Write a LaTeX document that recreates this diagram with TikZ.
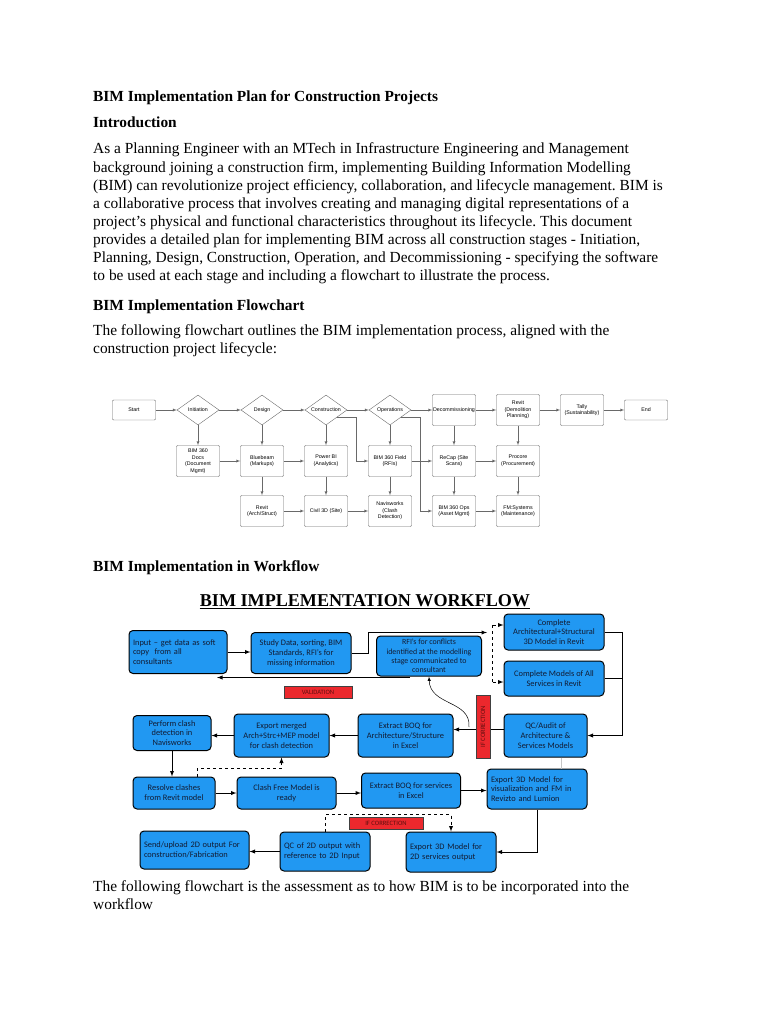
\documentclass[tikz,border=0pt]{standalone}
\usepackage{fontspec}
\setmainfont{Liberation Serif}
\newfontfamily\chartfont{Liberation Sans}
\newfontfamily\flowfont{Carlito}
\usepackage{tikz}
\usetikzlibrary{shapes.geometric, arrows, positioning}
\definecolor{boxblue}{RGB}{33, 152, 242}
\definecolor{flagred}{RGB}{236, 40, 45}
\definecolor{flagtext}{RGB}{95, 15, 15}
\definecolor{chartgray}{RGB}{105, 105, 105}
\definecolor{boxtext}{RGB}{18, 28, 52}
\frenchspacing

\begin{document}
\begin{tikzpicture}[x=1pt, y=-1pt, >=latex,
    font=\fontsize{15.4}{18}\selectfont,
    heading/.style={anchor=base west, inner sep=0pt, font=\bfseries\fontsize{15.4}{18}\selectfont},
    line/.style={anchor=base west, inner sep=0pt},
    stage/.style={draw=chartgray, rounded corners=1pt, fill=white, minimum width=43pt, minimum height=31pt, inner sep=0.3pt, align=center, font=\chartfont\fontsize{5.3}{6.6}\selectfont},
    terminal/.style={stage, minimum height=20pt},
    phase/.style={draw=chartgray, diamond, aspect=1.4, minimum width=42pt, minimum height=30pt, inner sep=0pt, font=\chartfont\fontsize{5.3}{6.6}\selectfont},
    chartarrow/.style={->, draw=chartgray, line width=0.4pt},
    wfbox/.style={draw=black, line width=1pt, rounded corners=4pt, fill=boxblue, text=boxtext, align=center, inner sep=2pt, font=\flowfont\fontsize{8.4}{9.8}\selectfont},
    wfleft/.style={wfbox, align=left, inner sep=4pt},
    flag/.style={draw=black!75, line width=0.7pt, fill=flagred, text=flagtext, inner sep=0pt, font=\flowfont\fontsize{6.6}{7}\selectfont},
    wfarrow/.style={->, line width=0.9pt},
    wfdash/.style={line width=0.9pt, dashed}]
\useasboundingbox (0,0) rectangle (768,1024);

% Page text
\node[heading] (title) at (93,101.7) {BIM Implementation Plan for Construction Projects};
\node[heading] (intro) at (93,128) {Introduction};
\foreach \txt [count=\k] in {
    {As a Planning Engineer with an MTech in Infrastructure Engineering and Management},
    {background joining a construction firm, implementing Building Information Modelling},
    {(BIM) can revolutionize project efficiency, collaboration, and lifecycle management. BIM is},
    {a collaborative process that involves creating and managing digital representations of a},
    {project’s physical and functional characteristics throughout its lifecycle. This document},
    {provides a detailed plan for implementing BIM across all construction stages - Initiation,},
    {Planning, Design, Construction, Operation, and Decommissioning - specifying the software},
    {to be used at each stage and including a flowchart to illustrate the process.}}
  \node[line] (para\k) at (93,{154+18.1*(\k-1)}) {\txt};
\node[heading] (flowhead) at (93,310.7) {BIM Implementation Flowchart};
\node[line] (flowtext1) at (93,335) {The following flowchart outlines the BIM implementation process, aligned with the};
\node[line] (flowtext2) at (93,353) {construction project lifecycle:};
\node[heading] (wfhead) at (93,571) {BIM Implementation in Workflow};
\node[line] (wftext1) at (93,891.7) {The following flowchart is the assessment as to how BIM is to be incorporated into the};
\node[line] (wftext2) at (93,909.5) {workflow};

% Lifecycle flowchart
\node[terminal] (start) at (134,410) {Start};
\node[phase] (initiation) at (198,410) {Initiation};
\node[phase] (design) at (262,410) {Design};
\node[phase] (construction) at (326,410) {Construction};
\node[phase] (operations) at (390,410) {Operations};
\node[stage] (decom) at (454,410) {Decommissioning};
\node[stage] (revitdemo) at (518,410) {Revit\\(Demolition\\Planning)};
\node[stage] (tally) at (582,410) {Tally\\(Sustainability)};
\node[terminal] (finish) at (646,410) {End};

\node[stage] (docs) at (198,461) {BIM 360\\Docs\\(Document\\Mgmt)};
\node[stage] (bluebeam) at (262,461) {Bluebeam\\(Markups)};
\node[stage] (powerbi) at (326,461) {Power BI\\(Analytics)};
\node[stage] (field) at (390,461) {BIM 360 Field\\(RFIs)};
\node[stage] (recap) at (454,461) {ReCap (Site\\Scans)};
\node[stage] (procore) at (518,461) {Procore\\(Procurement)};

\node[stage] (revitarch) at (262,511) {Revit\\(Arch/Struct)};
\node[stage] (civil) at (326,511) {Civil 3D (Site)};
\node[stage] (navis) at (390,511) {Navisworks\\(Clash\\Detection)};
\node[stage] (assetops) at (454,511) {BIM 360 Ops\\(Asset Mgmt)};
\node[stage] (fmsys) at (518,511) {FM:Systems\\(Maintenance)};

\draw[chartarrow] (start) -- (initiation);
\draw[chartarrow] (initiation) -- (design);
\draw[chartarrow] (design) -- (construction);
\draw[chartarrow] (construction) -- (operations);
\draw[chartarrow] (operations) -- (decom);
\draw[chartarrow] (decom) -- (revitdemo);
\draw[chartarrow] (revitdemo) -- (tally);
\draw[chartarrow] (tally) -- (finish);
\draw[chartarrow] (construction.south east) -- ++(20,0) |- (field);
\draw[chartarrow] (operations.south east) -- ++(20,0) |- (assetops);

\draw[chartarrow] (initiation) -- (docs);
\draw[chartarrow] (design) -- (bluebeam);
\draw[chartarrow] (construction) -- (powerbi);
\draw[chartarrow] (operations) -- (field);
\draw[chartarrow] (decom) -- (recap);
\draw[chartarrow] (revitdemo) -- (procore);
\draw[chartarrow] (docs) -- (bluebeam);
\draw[chartarrow] (bluebeam) -- (powerbi);
\draw[chartarrow] (field) -- (recap);
\draw[chartarrow] (recap) -- (procore);

\draw[chartarrow] (bluebeam) -- (revitarch);
\draw[chartarrow] (powerbi) -- (civil);
\draw[chartarrow] (field) -- (navis);
\draw[chartarrow] (recap) -- (assetops);
\draw[chartarrow] (procore) -- (fmsys);
\draw[chartarrow] (revitarch) -- (civil);
\draw[chartarrow] (civil) -- (navis);
\draw[chartarrow] (assetops) -- (fmsys);

% Workflow diagram
\node[anchor=base, inner sep=0pt, font=\bfseries\fontsize{18.1}{20}\selectfont] (wftitle) at (365,606) {BIM IMPLEMENTATION WORKFLOW};
\draw[line width=0.8pt] ([yshift=-2.5pt]wftitle.base west) -- ([yshift=-2.5pt]wftitle.base east);

\node[wfleft, text width=90pt, minimum height=43pt] (input) at (178,652) {Input – get data as soft\\copy~ from all\\consultants};
\node[wfbox, minimum width=100pt, minimum height=41pt] (study) at (301,653) {Study Data, sorting, BIM\\Standards, RFI’s for\\missing information};
\node[wfbox, minimum width=105pt, minimum height=40pt, inner sep=1pt, font=\flowfont\fontsize{7.9}{9.2}\selectfont] (rfi) at (429,656) {RFI’s for conflicts\\identified at the modelling\\stage communicated to\\consultant};
\node[wfbox, minimum width=100pt, minimum height=36pt, inner sep=1pt] (archmodel) at (554,632) {Complete\\Architectural+Structural\\3D Model in Revit};
\node[wfbox, minimum width=100pt, minimum height=35pt] (servmodel) at (554,678.5) {Complete Models of All\\Services in Revit};

\node[wfbox, minimum width=78pt, minimum height=35pt] (clash) at (172,733) {Perform clash\\detection in\\Navisworks};
\node[wfbox, minimum width=95pt, minimum height=43pt] (export) at (281.5,735.5) {Export merged\\Arch+Strc+MEP model\\for clash detection};
\node[wfbox, minimum width=95pt, minimum height=43pt] (boqarch) at (405.5,735.5) {Extract BOQ for\\Architecture/Structure\\in Excel};
\node[wfbox, minimum width=83pt, minimum height=43pt] (qcaudit) at (545.5,735.5) {QC/Audit of\\Architecture \&\\Services Models};

\node[wfbox, minimum width=82pt, minimum height=32pt] (resolve) at (174,793) {Resolve clashes\\from Revit model};
\node[wfbox, minimum width=99pt, minimum height=32pt] (clashfree) at (286.5,793) {Clash Free Model is\\ready};
\node[wfbox, minimum width=99pt, minimum height=35pt] (boqserv) at (411,790.5) {Extract BOQ for services\\in Excel};
\node[wfleft, text width=92pt, minimum height=40pt] (viz) at (537,789) {Export 3D Model for\\visualization and FM in\\Revizto and Lumion};

\node[wfleft, text width=101pt, minimum height=38pt] (send) at (194.5,850) {Send/upload 2D output For\\construction/Fabrication};
\node[wfleft, text width=82pt, minimum height=39pt] (qc2d) at (325,851.5) {QC of 2D output with\\reference to 2D Input};
\node[wfleft, text width=82pt, minimum height=40pt] (export2d) at (451,852) {Export 3D Model for\\2D services output};

% Workflow connectors
\coordinate (rfijoin) at (487,632.5);
\coordinate (splittop) at (492.5,625);
\coordinate (splitbot) at (492.5,682);
\coordinate (rfiback) at (410,677.5);
\coordinate (inputback) at (217,677.5);
\coordinate (curvestart) at (469,727);

\draw[wfarrow] (input.east) -- (input.east -| study.west);
\draw[line width=0.9pt, ->] (study.east) -- ++(17,0) |- (rfijoin);
\draw[wfdash] (splittop) -- (splitbot);
\draw[wfdash, ->] (splittop) -- (splittop -| archmodel.west);
\draw[wfdash, ->] (splitbot) -- (splitbot -| servmodel.west);
\draw[wfarrow] (rfiback) -- (inputback);
\draw[wfarrow] (archmodel.east) -- ++(18,0) |- (qcaudit.east);
\draw[line width=0.9pt] (servmodel.east) -- ++(18,0);
\draw[wfarrow] ([yshift=6pt]qcaudit.west) -- ([yshift=6pt]qcaudit.west -| boqarch.east);
\draw[->, line width=0.5pt] (curvestart) .. controls (471,700) and (430,706) .. (rfi.south);
\draw[wfarrow] (boqarch.west) -- (export.east);
\draw[wfarrow] (export.west) -- (export.west -| clash.east);
\draw[wfarrow] (clash) -- (clash |- resolve.north);
\draw[wfdash, ->] ([xshift=23pt]resolve.north) -- ++(0,-8) -| (export.south);
\draw[wfarrow] (resolve) -- (clashfree);
\draw[wfarrow] (clashfree.east) -- (clashfree.east -| boqserv.west);
\draw[wfarrow] (boqserv.east) -- (boqserv.east -| viz.west);
\draw[gray!45, line width=0.6pt] ([xshift=16pt]qcaudit.south) -- ([xshift=16pt]qcaudit.south |- viz.north);
\draw[wfarrow] (viz.south) |- (export2d.east);
\draw[wfdash, ->] (qc2d.north) -- ++(0,-17) -| (export2d.north);
\draw[wfarrow] (qc2d.west) -- (qc2d.west -| send.east);

% Red flags
\node[flag, minimum width=68pt, minimum height=12pt] (validation) at (318,692) {VALIDATION};
\node[flag, minimum width=63pt, minimum height=14pt, rotate=90] (corrv) at (483,726.5) {IF CORRECTION};
\node[flag, minimum width=74pt, minimum height=12pt] (corrh) at (386,823) {IF CORRECTION};
\end{tikzpicture}
\end{document}
